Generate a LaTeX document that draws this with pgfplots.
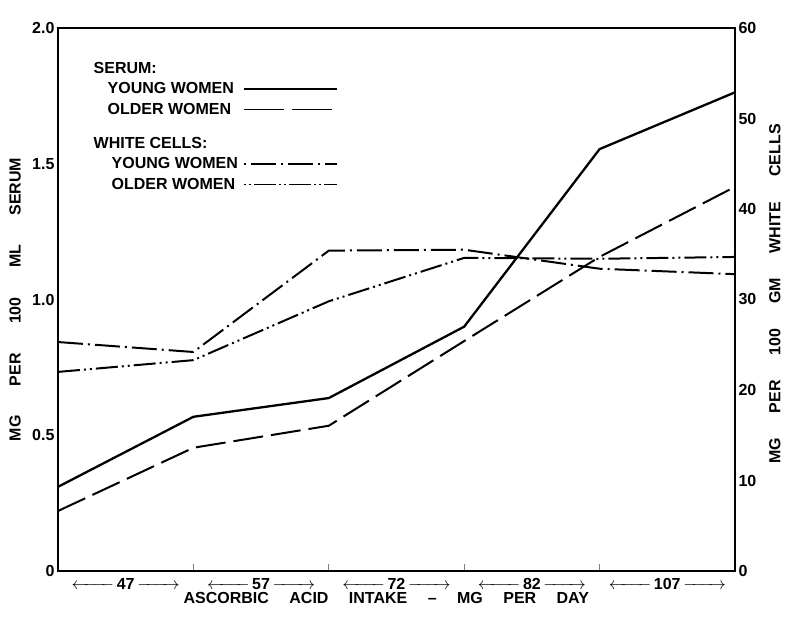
\documentclass[border=0pt]{standalone}
\usepackage{pgfplots}
\pgfplotsset{compat=1.18}
\usepackage{amsmath}
\usepackage{fontspec}
\setmainfont{Liberation Sans}
\newcommand{\rng}[1]{$\xleftarrow{\hspace{34pt}}$\,#1\,$\xrightarrow{\hspace{34pt}}$}
\begin{document}
\begin{tikzpicture}
\pgfplotsset{
  every axis/.append style={
    scale only axis, width=677pt, height=543pt,
    xmin=0, xmax=5, ymin=0,
    font=\fontsize{16}{18}\selectfont\bfseries,
    /pgf/number format/assume math mode=true,
    axis line style={line width=1.3pt},
  },
}
\begin{axis}[
  ymax=2,
  ytick={0,0.5,1,1.5,2},
  yticklabels={0,0.5,1.0,1.5,2.0},
  ytick style={draw=none},
  ytick pos=left,
  xtick pos=bottom,
  xtick={1,2,3,4},
  xticklabels={},
  xtick style={line width=1pt},
  tick align=inside,
  major tick length=7pt,
  extra x ticks={0.5,1.5,2.5,3.5,4.5},
  extra x tick labels={\rng{47},\rng{57},\rng{72},\rng{82},\rng{107}},
  extra x tick style={major tick length=0pt, tick style={draw=none}, tick label style={yshift=-3pt}},
  ylabel={MG\quad\ \ \ PER\quad\ \ \ 100\quad\ \ \ ML\quad\ \ \ SERUM},
  ylabel style={at={(axis description cs:-0.0635,0.5)}, anchor=center},
  xlabel={ASCORBIC\quad\ ACID\quad\ INTAKE\quad\ --\quad\ MG\quad\ PER\quad\ DAY},
  xlabel style={at={(axis description cs:0.485,-0.0497)}, anchor=center},
  legend style={at={(axis description cs:0.045,0.945)}, anchor=north west,
    draw=none, fill=none, cells={anchor=west}, legend plot pos=right,
    font=\fontsize{16}{18}\selectfont\bfseries, row sep=4pt},
  legend image code/.code={\draw[#1] (4pt,0pt) -- (97pt,0pt);},
]
\addplot[black, line width=2.3pt, forget plot] coordinates {(0,0.31)(1,0.568)(2,0.637)(3,0.90)(4,1.554)(5,1.763)};
\addplot[black, line width=2pt, dash pattern=on 30pt off 8pt, forget plot] coordinates {(0,0.221)(1,0.454)(2,0.535)(3,0.847)(4,1.157)(5,1.415)};
\addlegendimage{empty legend}
\addlegendentry{SERUM:}
\addlegendimage{black, line width=2.3pt}
\addlegendentry{\hspace*{14pt}YOUNG WOMEN}
\addlegendimage{black, line width=1.5pt, dash pattern=on 40pt off 8pt}
\addlegendentry{\hspace*{14pt}OLDER WOMEN}
\addlegendimage{empty legend}
\addlegendentry{\rule{0pt}{24pt}WHITE CELLS:}
\addlegendimage{black, line width=1.5pt, dash pattern=on 2pt off 5pt on 25pt off 5pt}
\addlegendentry{\hspace*{18pt}YOUNG WOMEN}
\addlegendimage{black, line width=1.5pt, dash pattern=on 2pt off 3pt on 2pt off 3pt on 22pt off 3pt}
\addlegendentry{\hspace*{18pt}OLDER WOMEN}
\end{axis}
\begin{axis}[
  ymax=60,
  axis y line*=right,
  axis x line=none,
  ytick={0,10,...,60},
  ytick style={draw=none},
  ylabel={MG\quad\ \ PER\quad\ \ 100\quad\ \ GM\quad\ \ WHITE\quad\ \ CELLS},
  ylabel style={at={(axis description cs:1.059,0.51)}, anchor=center},
]
\addplot[black, line width=2pt, dash pattern=on 25pt off 5pt on 2pt off 5pt] coordinates {(0,25.3)(1,24.2)(2,35.4)(3,35.5)(4,33.4)(5,32.8)};
\addplot[black, line width=2pt, dash pattern=on 22pt off 4pt on 2pt off 4pt on 2pt off 4pt] coordinates {(0,22.0)(1,23.3)(2,29.8)(3,34.6)(4,34.5)(5,34.7)};
\end{axis}
\pgfresetboundingbox
\path[use as bounding box] ([xshift=-58pt,yshift=-48pt]current axis.south west) rectangle ([xshift=54pt,yshift=28pt]current axis.north east);
\end{tikzpicture}
\end{document}
